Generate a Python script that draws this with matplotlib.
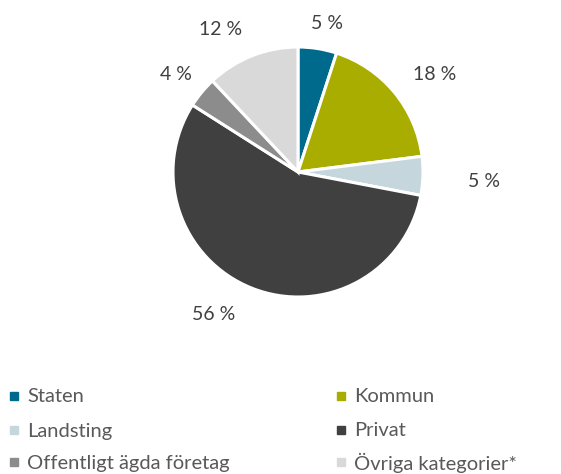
import matplotlib
matplotlib.use("Agg")
import matplotlib.pyplot as plt
import numpy as np
from matplotlib.patches import Rectangle

categories = ["Staten", "Kommun", "Landsting", "Privat",
              "Offentligt ägda företag", "Övriga kategorier*"]
values = [5, 18, 5, 56, 4, 12]
colors = ["#006a8c", "#a8ad00", "#c5d7dd", "#404040", "#8c8c8c", "#d9d9d9"]
labels = ["5 %", "18 %", "5 %", "56 %", "4 %", "12 %"]
# label placement: radial distance (in radii) and angle nudge (deg)
lab_r = [1.21, 1.34, 1.49, 1.32, 1.25, 1.30]
lab_da = [-2, -4, -1, -9, 1, 7]

W, H = 561, 474
fig = plt.figure(figsize=(W / 100, H / 100), dpi=100)
plt.rcParams['font.family'] = ['Lato', 'DejaVu Sans']

cx, cy, R = 298, 172, 125
ax = fig.add_axes([(cx - R) / W, (H - cy - R) / H, 2 * R / W, 2 * R / H])
wedges, _ = ax.pie(values, colors=colors, startangle=90, counterclock=False,
                   wedgeprops=dict(edgecolor="white", linewidth=2.2))
ax.set_xlim(-1, 1)
ax.set_ylim(-1, 1)
ax.set_aspect("equal")

for w, lab, r, da in zip(wedges, labels, lab_r, lab_da):
    mid = np.deg2rad((w.theta1 + w.theta2) / 2 + da)
    ax.text(r * np.cos(mid), r * np.sin(mid), lab, ha="center", va="center",
            fontsize=14, color="#404040", clip_on=False)

# legend, two columns
rows_y = [396, 430, 462]
col_x = [10, 337]
for i, (cat, col) in enumerate(zip(categories, colors)):
    x = col_x[i % 2]
    y = rows_y[i // 2]
    fig.patches.append(Rectangle((x / W, (H - y - 4) / H), 8 / W, 8 / H,
                                 transform=fig.transFigure, color=col))
    fig.text((x + 17) / W, (H - y - 1) / H, cat, ha="left", va="center",
             fontsize=14.5, color="#595959")

fig.savefig("out.png", dpi=100)
